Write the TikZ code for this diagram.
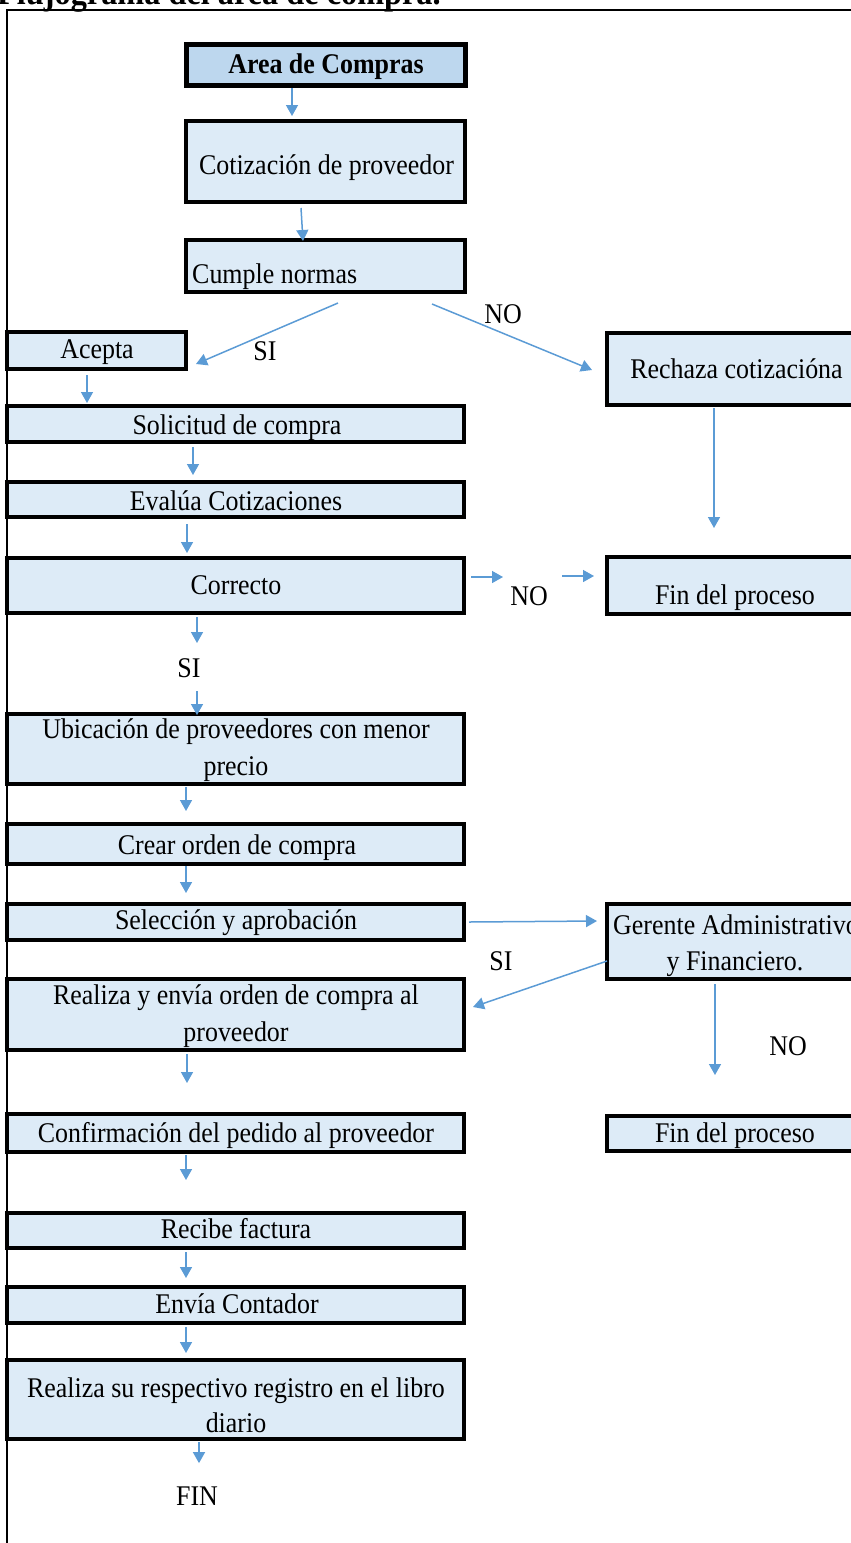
\documentclass[tikz,border=0pt]{standalone}
\usepackage{fontspec}
\setmainfont{Liberation Serif}[FakeStretch=0.91]
\usetikzlibrary{arrows.meta}
\definecolor{boxfill}{HTML}{DDEBF7}
\definecolor{headfill}{HTML}{BDD7EE}
\definecolor{arrowc}{HTML}{5B9BD5}
\tikzset{
  box/.style={draw=black, line width=4pt, fill=boxfill, rectangle, inner sep=0pt, outer sep=0pt},
  txt/.style={inner sep=0pt, anchor=base, font=\fontsize{28.5}{36}\selectfont},
  arr/.style={draw=arrowc, line width=1.5pt, -{Triangle[length=11pt,width=12pt]}},
}
\begin{document}
\begin{tikzpicture}[x=1pt,y=-1pt]
\useasboundingbox (0,0) rectangle (851,1543);
% frame
\draw[line width=2.5pt] (7,1560) -- (7,10) -- (880,10);
% title (partly cut by the page top)
\node[inner sep=0pt, anchor=base west, font=\fontsize{35.5}{40}\selectfont\bfseries] (title) at (-3,4) {Flujograma del área de compra.};
% boxes
\node[box, fill=headfill, line width=5pt, minimum width=279pt, minimum height=41pt] (area) at (325.5,64.5) {};
\node[box, minimum width=279pt, minimum height=81pt] (cot) at (325.5,161.5) {};
\node[box, minimum width=279pt, minimum height=52pt] (cum) at (325.5,266) {};
\node[box, minimum width=179pt, minimum height=37pt] (acep) at (96.5,350.5) {};
\node[box, minimum width=258pt, minimum height=72pt] (rech) at (736,369) {};
\node[box, minimum width=457pt, minimum height=36pt] (sol) at (235.5,424) {};
\node[box, minimum width=457pt, minimum height=35pt] (eval) at (235.5,499.5) {};
\node[box, minimum width=457pt, minimum height=55pt] (corr) at (235.5,585.5) {};
\node[box, minimum width=258pt, minimum height=57pt] (fin1) at (736,585.5) {};
\node[box, minimum width=457pt, minimum height=70pt] (ubic) at (235.5,749) {};
\node[box, minimum width=457pt, minimum height=40pt] (crear) at (235.5,844) {};
\node[box, minimum width=457pt, minimum height=36pt] (sel) at (235.5,922) {};
\node[box, minimum width=258pt, minimum height=75pt] (ger) at (736,941.5) {};
\node[box, minimum width=457pt, minimum height=71pt] (real) at (235.5,1014.5) {};
\node[box, minimum width=457pt, minimum height=38pt] (conf) at (235.5,1133) {};
\node[box, minimum width=258pt, minimum height=35pt] (fin2) at (736,1133.5) {};
\node[box, minimum width=457pt, minimum height=35pt] (rec) at (235.5,1230.5) {};
\node[box, minimum width=457pt, minimum height=36pt] (env) at (235.5,1305) {};
\node[box, minimum width=457pt, minimum height=79pt] (reg) at (235.5,1399.5) {};
% texts
\node[txt, font=\fontsize{28.5}{36}\selectfont\bfseries] (areat) at (326,73) {Area de Compras};
\node[txt] (cott) at (326.5,174) {Cotización de proveedor};
\node[txt, anchor=base west] (cumt) at (192,283) {Cumple normas};
\node[txt] (acept) at (97,358) {Acepta};
\node[txt] (si1) at (265,360) {SI};
\node[txt] (no1) at (503,323) {NO};
\node[txt] (recht) at (736.5,378) {Rechaza cotizacióna};
\node[txt] (solt) at (237,434) {Solicitud de compra};
\node[txt] (evalt) at (236,510) {Evalúa Cotizaciones};
\node[txt] (corrt) at (236,594) {Correcto};
\node[txt] (no2) at (529,605) {NO};
\node[txt] (fin1t) at (735,604) {Fin del proceso};
\node[txt] (si2) at (189,677) {SI};
\node[txt] (ubica) at (236,738) {Ubicación de proveedores con menor};
\node[txt] (ubicb) at (236,775) {precio};
\node[txt] (creart) at (237,854) {Crear orden de compra};
\node[txt] (selt) at (236,929) {Selección y aprobación};
\node[txt] (gera) at (736,934) {Gerente Administrativo};
\node[txt] (gerb) at (735,970) {y Financiero.};
\node[txt] (si3) at (501,970) {SI};
\node[txt] (reala) at (236,1004) {Realiza y envía orden de compra al};
\node[txt] (realb) at (236,1041) {proveedor};
\node[txt] (no3) at (788,1055) {NO};
\node[txt] (conft) at (236,1142) {Confirmación del pedido al proveedor};
\node[txt] (fin2t) at (735,1142) {Fin del proceso};
\node[txt] (rect) at (236,1238) {Recibe factura};
\node[txt] (envt) at (237,1313) {Envía Contador};
\node[txt] (rega) at (236,1397) {Realiza su respectivo registro en el libro};
\node[txt] (regb) at (236,1432) {diario};
\node[txt] (fin) at (197,1505) {FIN};
% connectors
\draw[arr] ([xshift=-33.5pt,yshift=-3pt]area.south) -- ([xshift=-33.5pt,yshift=5pt]cot.north);
\draw[arr] ([xshift=-24.5pt,yshift=-6pt]cot.south) -- ([xshift=-22.5pt,yshift=-1pt]cum.north);
\draw[arr] ([xshift=12.5pt,yshift=-11pt]cum.south) -- ([xshift=10pt,yshift=-13.5pt]acep.east);
\draw[arr] ([xshift=106.5pt,yshift=-12pt]cum.south) -- ([xshift=-15pt,yshift=-1pt]rech.west);
\draw[arr] ([xshift=-9.5pt,yshift=-6pt]acep.south) -- ([xshift=-148.5pt,yshift=3pt]sol.north);
\draw[arr] ([xshift=-22pt,yshift=-3pt]rech.south) -- ([xshift=-22pt,yshift=29pt]fin1.north);
\draw[arr] ([xshift=-42.5pt,yshift=-5pt]sol.south) -- ([xshift=-42.5pt,yshift=7pt]eval.north);
\draw[arr] ([xshift=-48.5pt,yshift=-7pt]eval.south) -- ([xshift=-48.5pt,yshift=5pt]corr.north);
\draw[arr] ([xshift=7pt,yshift=8.5pt]corr.east) -- ([xshift=-104pt,yshift=8.5pt]fin1.west);
\draw[arr] ([xshift=98pt,yshift=9.5pt]corr.east) -- ([xshift=-13pt,yshift=9.5pt]fin1.west);
\draw[arr] ([xshift=-38.5pt,yshift=-4pt]corr.south) -- ([xshift=-38.5pt,yshift=71pt]ubic.north);
\draw[arr] ([xshift=-38.5pt,yshift=-78pt]corr.south) -- ([xshift=-38.5pt,yshift=-1pt]ubic.north);
\draw[arr] ([xshift=-49.5pt,yshift=-3pt]ubic.south) -- ([xshift=-49.5pt,yshift=13pt]crear.north);
\draw[arr] ([xshift=-49.5pt,yshift=-2pt]crear.south) -- ([xshift=-49.5pt,yshift=11pt]sel.north);
\draw[arr] ([xshift=5pt]sel.east) -- ([xshift=-10pt,yshift=20.5pt]ger.west);
\draw[arr] ([yshift=-19.5pt]ger.west) -- ([xshift=9pt,yshift=7.5pt]real.east);
\draw[arr] ([xshift=-21pt,yshift=-5pt]ger.south) -- ([xshift=-21pt,yshift=41pt]fin2.north);
\draw[arr] ([xshift=-48.5pt,yshift=-4pt]real.south) -- ([xshift=-48.5pt,yshift=31pt]conf.north);
\draw[arr] ([xshift=-49.5pt,yshift=-3pt]conf.south) -- ([xshift=-49.5pt,yshift=33pt]rec.north);
\draw[arr] ([xshift=-49.5pt,yshift=-4pt]rec.south) -- ([xshift=-49.5pt,yshift=9pt]env.north);
\draw[arr] ([xshift=-49.5pt,yshift=-4pt]env.south) -- ([xshift=-49.5pt,yshift=7pt]reg.north);
\draw[arr] ([xshift=-36.5pt,yshift=-3pt]reg.south) -- ([xshift=2pt,yshift=23pt]fin.north);
\end{tikzpicture}
\end{document}
